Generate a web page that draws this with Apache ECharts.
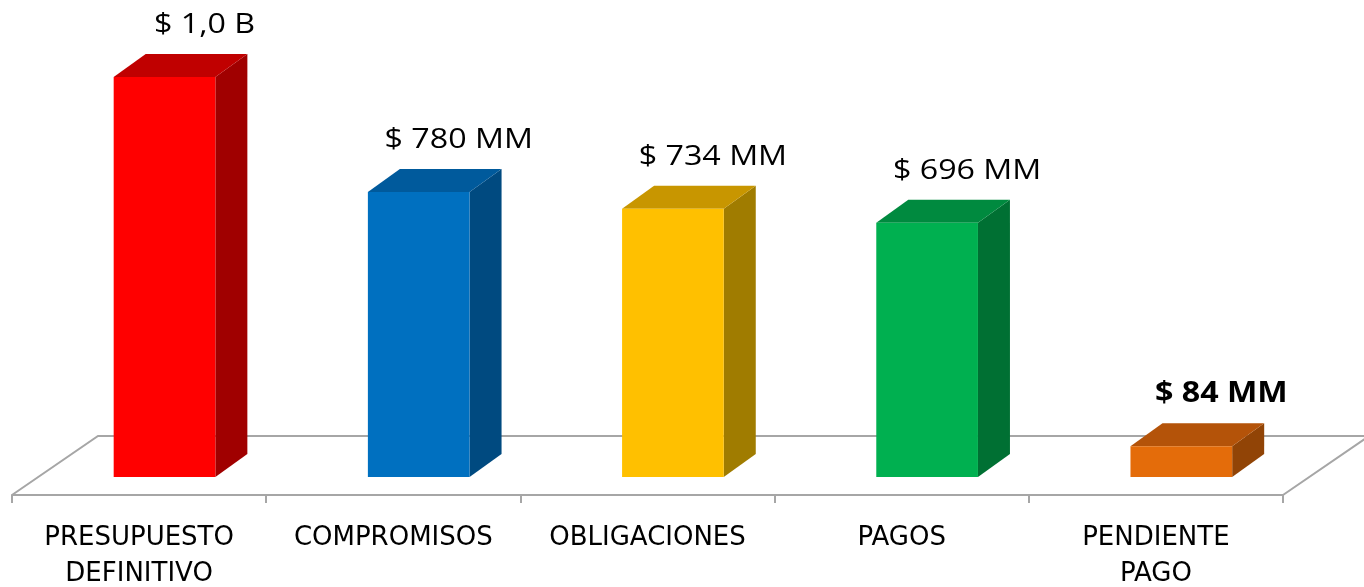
<!DOCTYPE html>
<html>
<head>
  <meta charset="utf-8">
  <title>Ejecución presupuestal</title>
  <script src="https://cdn.jsdelivr.net/npm/echarts@6.0.0/dist/echarts.min.js"></script>
  <style>
    html, body { margin: 0; padding: 0; background: #fff; }
  </style>
</head>
<body>
  <div id="main" style="width:1364px;height:587px;"></div>
  <script type="text/javascript">
    // data (millions of pesos)
    var categories = ['PRESUPUESTO\nDEFINITIVO', 'COMPROMISOS', 'OBLIGACIONES', 'PAGOS', 'PENDIENTE\nPAGO'];
    var values = [1095, 780, 734, 696, 84];
    var valueLabels = ['$ 1,0 B', '$ 780 MM', '$ 734 MM', '$ 696 MM', '$ 84 MM'];

    // front / top / side shades for each box
    var faceColors = [
      ['#ff0000', '#c00000', '#a00000'],
      ['#0070c0', '#005a9c', '#004a80'],
      ['#ffc000', '#c89600', '#a07c00'],
      ['#00b050', '#008a3f', '#007033'],
      ['#e46c0a', '#b45309', '#914406']
    ];
    var boldLabel = 4;

    var depthX = 32, depthY = -23;
    var font = '"Open Sans", "Noto Sans", sans-serif';

    var myChart = echarts.init(document.getElementById('main'));

    function renderFloor(params, api) {
      var cs = params.coordSys;
      var xl = cs.x, xr = cs.x + cs.width;
      var yf = cs.y + cs.height + 18;
      var yb = yf - 59;
      return {
        type: 'polyline',
        shape: { points: [[xl, yf], [xl + 86, yb], [xr + 86, yb], [xr, yf]] },
        style: { stroke: '#a6a6a6', lineWidth: 2, fill: null },
        silent: true
      };
    }

    function renderBar(params, api) {
      var idx = params.dataIndex;
      var top = api.coord([api.value(0), api.value(1)]);
      var base = api.coord([api.value(0), 0]);
      var band = api.size([1, 0])[0];
      var w = band * 0.4;
      var x0 = top[0] - w / 2 + band * 0.1;
      var x1 = x0 + w;
      var y0 = top[1], y1 = base[1];
      var c = faceColors[idx];
      return {
        type: 'group',
        children: [
          {
            type: 'polygon',
            shape: { points: [[x1, y0], [x1 + depthX, y0 + depthY], [x1 + depthX, y1 + depthY], [x1, y1]] },
            style: { fill: c[2] }
          },
          {
            type: 'polygon',
            shape: { points: [[x0, y0], [x0 + depthX, y0 + depthY], [x1 + depthX, y0 + depthY], [x1, y0]] },
            style: { fill: c[1] }
          },
          {
            type: 'rect',
            shape: { x: x0, y: y0, width: w, height: y1 - y0 },
            style: { fill: c[0] }
          },
          {
            type: 'text',
            x: x0 + w / 2 + 40,
            y: y0 + depthY - 29,
            scaleX: 1.15,
            style: {
              text: valueLabels[idx],
              font: (idx === boldLabel ? 'bold ' : '') + '28px ' + font,
              fill: '#000',
              align: 'center',
              verticalAlign: 'middle'
            }
          }
        ]
      };
    }

    var option = {
      animation: false,
      grid: { left: 12, right: 81, top: 2, bottom: 110, outerBoundsMode: 'none', containLabel: false },
      xAxis: {
        type: 'category',
        data: categories,
        offset: 18,
        axisLine: { onZero: false, lineStyle: { color: '#a6a6a6', width: 2 } },
        axisTick: { show: true, length: 8, lineStyle: { color: '#a6a6a6', width: 2 } },
        axisLabel: {
          color: '#000',
          fontSize: 26,
          fontFamily: '"DejaVu Sans", sans-serif',
          lineHeight: 36,
          margin: 25,
          interval: 0
        }
      },
      yAxis: {
        type: 'value',
        min: 0,
        max: 1300,
        show: false,
        splitLine: { show: false }
      },
      series: [
        {
          type: 'custom',
          renderItem: renderFloor,
          data: [[0, 0]],
          z: 1,
          silent: true
        },
        {
          type: 'custom',
          renderItem: renderBar,
          data: values.map(function (v, i) { return [i, v]; }),
          z: 2
        }
      ]
    };

    myChart.setOption(option);
  </script>
</body>
</html>
